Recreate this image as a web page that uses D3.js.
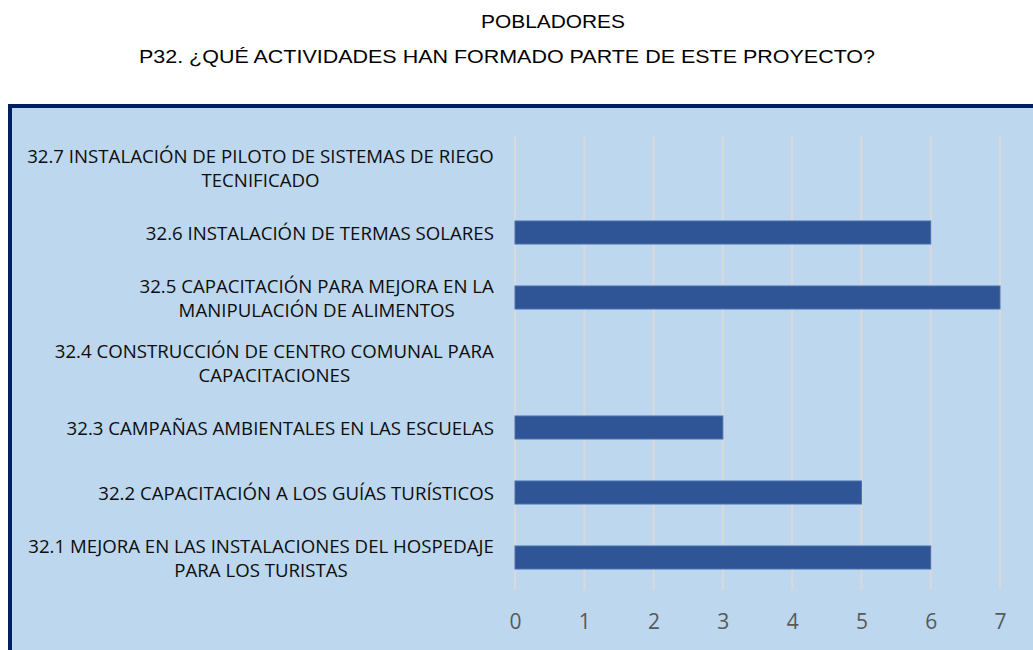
<!DOCTYPE html>
<html>
<head>
<meta charset="utf-8">
<script src="https://cdn.jsdelivr.net/npm/d3@7"></script>
<style>
  body { margin: 0; background: #fff; }
  svg { display: block; }
</style>
</head>
<body>
<div id="app"></div>
<script>
const categories = [
    "32.7 INSTALACIÓN DE PILOTO DE SISTEMAS DE RIEGO|TECNIFICADO",
    "32.6 INSTALACIÓN DE TERMAS SOLARES",
    "32.5 CAPACITACIÓN PARA MEJORA EN LA|MANIPULACIÓN DE ALIMENTOS",
    "32.4 CONSTRUCCIÓN DE CENTRO COMUNAL PARA|CAPACITACIONES",
    "32.3 CAMPAÑAS AMBIENTALES EN LAS ESCUELAS",
    "32.2 CAPACITACIÓN A LOS GUÍAS TURÍSTICOS",
    "32.1 MEJORA EN LAS INSTALACIONES DEL HOSPEDAJE|PARA LOS TURISTAS"
];
const values = [0, 6, 7, 0, 3, 5, 6];
const xTicks = [0, 1, 2, 3, 4, 5, 6, 7];

function plotChart() {
    const svgWidth = 1033;
    const svgHeight = 650;
    const plot = { left: 515, right: 1000, top: 135, bottom: 590 };

    const svg = d3.select("#app").append("svg")
        .attr("width", svgWidth)
        .attr("height", svgHeight);

    // titles (source text is a bit wider than Arial, so stretch to fit)
    svg.append("text")
        .attr("x", 553).attr("y", 28)
        .attr("text-anchor", "middle")
        .attr("textLength", 144)
        .attr("lengthAdjust", "spacingAndGlyphs")
        .style("font-family", "'Liberation Sans', Arial, sans-serif")
        .style("font-size", "18px")
        .attr("fill", "#000")
        .text("POBLADORES");
    svg.append("text")
        .attr("x", 507).attr("y", 63)
        .attr("text-anchor", "middle")
        .attr("textLength", 736)
        .attr("lengthAdjust", "spacingAndGlyphs")
        .style("font-family", "'Liberation Sans', Arial, sans-serif")
        .style("font-size", "18px")
        .attr("fill", "#000")
        .text("P32. ¿QUÉ ACTIVIDADES HAN FORMADO PARTE DE ESTE PROYECTO?");

    // chart area with dark border
    svg.append("rect")
        .attr("x", 10).attr("y", 106)
        .attr("width", 1040).attr("height", 560)
        .attr("fill", "#BDD7EE")
        .attr("stroke", "#002060")
        .attr("stroke-width", 4);

    const x = d3.scaleLinear()
        .domain([0, 7])
        .range([plot.left, plot.right]);

    const y = d3.scaleBand()
        .domain(categories)
        .range([plot.top, plot.bottom])
        .paddingInner(0.646)
        .paddingOuter(0.323);

    // gridlines
    svg.append("g")
        .selectAll("line")
        .data(xTicks)
        .enter()
            .append("line")
            .attr("x1", d => x(d)).attr("x2", d => x(d))
            .attr("y1", plot.top).attr("y2", plot.bottom)
            .attr("stroke", "#D9D9D9")
            .attr("stroke-width", 2);

    // bars
    svg.append("g")
        .selectAll("rect")
        .data(values)
        .enter()
            .append("rect")
            .attr("x", x(0))
            .attr("y", (d, i) => y(categories[i]))
            .attr("width", d => x(d) - x(0))
            .attr("height", y.bandwidth())
            .attr("fill", "#2F5597")
            .attr("stroke", d => d > 0 ? "#4A6FB0" : "none")
            .attr("stroke-width", 1);

    // x axis labels
    const xAxis = d3.axisBottom(x).tickValues(xTicks).tickFormat(d3.format("d")).tickSize(0).tickPadding(24);
    const gx = svg.append("g")
        .attr("transform", "translate(0," + plot.bottom + ")")
        .call(xAxis);
    gx.select(".domain").remove();
    gx.selectAll("text")
        .style("font-family", "'Open Sans', 'Noto Sans', sans-serif")
        .style("font-size", "21px")
        .attr("fill", "#595959");

    // category labels: wrapped lines centred on each other, block right-aligned
    const labelRight = 494;
    const lineH = 24;
    const targetW = 467;
    const labels = svg.append("g")
        .style("font-family", "'Open Sans', 'Noto Sans', sans-serif")
        .style("font-size", "17.5px")
        .attr("fill", "#0D0D0D");

    const groups = [];
    categories.forEach(function(c) {
        const lines = c.split("|");
        const cy = y(c) + y.bandwidth() / 2;
        const g = labels.append("g");
        const texts = lines.map(function(l, k) {
            return g.append("text")
                .attr("y", cy + 1 + (k - (lines.length - 1) / 2) * lineH)
                .attr("dy", "0.36em")
                .attr("text-anchor", "middle")
                .text(l);
        });
        const maxW = d3.max(texts, t => t.node().getComputedTextLength());
        groups.push({ g: g, texts: texts, maxW: maxW });
    });
    // horizontal stretch so the longest line fills the same width as the source
    const sx = targetW / d3.max(groups, d => d.maxW);
    groups.forEach(function(d) {
        d.texts.forEach(t => t.attr("x", labelRight - d.maxW / 2));
        d.g.attr("transform", "translate(" + labelRight + ",0) scale(" + sx + ",1) translate(" + (-labelRight) + ",0)");
    });
}

plotChart();
</script>
</body>
</html>
